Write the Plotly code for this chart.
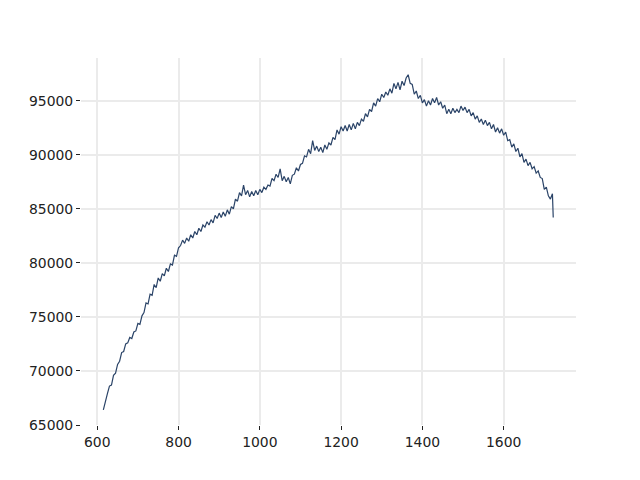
import plotly.graph_objects as go

x_values = list(range(615, 1721, 5)) + [1722]

y_values = [
    66400, 67300, 67900, 68600, 68700, 69600, 69800, 70600, 70900, 71700,
    71800, 72500, 72600, 73100, 73000, 73600, 73700, 74400, 74300, 75100,
    75400, 76300, 76200, 77100, 77000, 78000, 77700, 78600, 78300, 79000,
    78800, 79500, 79200, 79900, 79800, 80700, 80600, 81400, 81600, 82100,
    81800, 82300, 82000, 82600, 82300, 82900, 82600, 83200, 82900, 83500,
    83300, 83800, 83500, 84000, 83700, 84400, 84100, 84600, 84200, 84700,
    84300, 84900, 84500, 85200, 85000, 85900, 85700, 86500, 86200, 87200,
    86300, 86700, 86100, 86600, 86200, 86700, 86300, 86800, 86500, 87000,
    86800, 87200, 87100, 87800, 87600, 88200, 87900, 88700, 87600, 88000,
    87500, 87900, 87300, 88100, 88200, 88800, 88500, 89100, 89200, 89900,
    89800, 90500, 90100, 91300, 90400, 90800, 90300, 90700, 90200, 90900,
    90500, 91100, 90900, 91600, 91400, 92300, 91900, 92600, 92200, 92700,
    92200, 92800, 92300, 92900, 92400, 93000, 92700, 93300, 93100, 93800,
    93500, 94200, 94000, 94800, 94500, 95200, 94900, 95600, 95300, 95800,
    95500, 96100, 95700, 96600, 96100, 96700, 96000, 96800, 96400, 97100,
    97400, 96600, 96500, 95600, 95900, 95200, 95500, 94800, 95100, 94500,
    95000, 94600, 95200, 94800, 95300, 94600, 94900, 94300, 94600, 93800,
    94200, 93800, 94300, 93900, 94200, 93900, 94500, 94100, 94400, 93900,
    94200, 93600, 93900, 93300, 93600, 93000, 93300, 92800, 93200, 92700,
    93000, 92400, 92800, 92100, 92500, 92000, 92400, 91800, 92100, 91300,
    91400, 90700, 91000, 90300, 90600, 89800, 90100, 89300, 89600, 89000,
    89300, 88700, 88900, 88300, 88500, 87900, 87800, 86800, 87000, 86200,
    85900, 86400, 84200,
]

x_tick_values = [600, 800, 1000, 1200, 1400, 1600]
y_tick_values = [65000, 70000, 75000, 80000, 85000, 90000, 95000]

fig = go.Figure()
fig.add_trace(go.Scatter(
    x=x_values, y=y_values, mode="lines",
    line=dict(color="#2b4468", width=1.2),
    showlegend=False,
))

axis_common = dict(
    showgrid=True, gridcolor="#ebebeb", gridwidth=1.6,
    zeroline=False, showline=False, automargin=False,
    ticks="outside", ticklen=4, tickwidth=1, tickcolor="#222222",
    tickfont=dict(family="DejaVu Sans", size=13.9, color="#222222"),
)

fig.update_layout(
    width=640, height=480,
    margin=dict(l=73, r=72, t=50, b=63),
    paper_bgcolor="white", plot_bgcolor="white",
    xaxis=dict(range=[560, 1778], tickvals=x_tick_values,
               ticktext=[str(v) for v in x_tick_values], **axis_common),
    yaxis=dict(range=[65000, 98950], tickvals=y_tick_values,
               ticktext=[str(v) for v in y_tick_values], **axis_common),
)

fig.write_html("out.html")
